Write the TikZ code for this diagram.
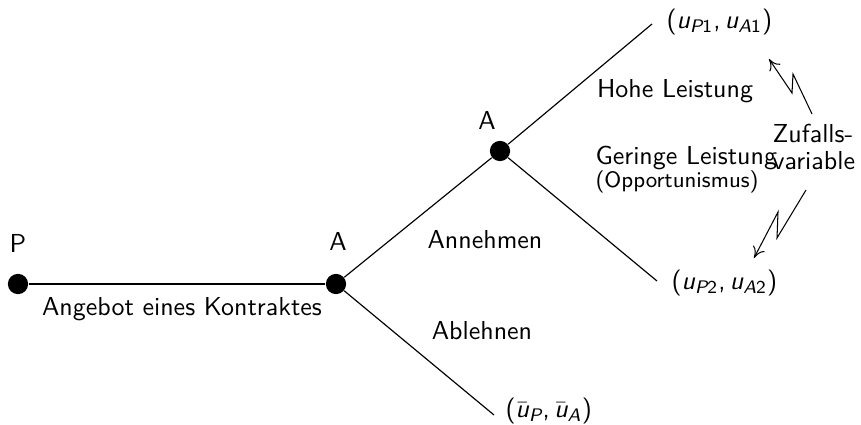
\documentclass[tikz,border=0pt]{standalone}
\usepackage{amsmath}
\renewcommand{\familydefault}{\sfdefault}
\usetikzlibrary{arrows.meta}
% sans-serif slanted variables and upright sans digits inside math
\newcommand{\svar}[1]{\text{\sffamily\slshape #1}}
\newcommand{\stxt}[1]{\text{\sffamily\upshape #1}}
\newcommand{\payoff}[2]{\stxt{(}#1\stxt{,}\,#2\stxt{)}}
\tikzset{
  decision/.style={circle, fill=black, inner sep=0pt, minimum size=7.8pt},
  branch/.style={line width=0.45pt},
  lbl/.style={inner sep=0pt, font=\sffamily},
  smalllbl/.style={inner sep=0pt, font=\sffamily\fontsize{8.6}{10}\selectfont},
  tightlbl/.style={inner sep=0pt, font=\sffamily\fontsize{10}{10.4}\selectfont},
  chance/.style={line width=0.4pt, -{To[length=4.2pt,width=5pt]}}
}
\begin{document}
\begin{tikzpicture}[x=0.385pt, y=-0.385pt]
  \useasboundingbox (0,0) rectangle (861,425);

  % decision nodes
  \node[decision] (p)  at (18,284)  {};
  \node[decision] (a1) at (336,284) {};
  \node[decision] (a2) at (500,151) {};

  % ends of the branches
  \coordinate (e1) at (652,24);
  \coordinate (e2) at (657,281);
  \coordinate (e3) at (494,415);

  % branches of the tree
  \draw[branch] (p) -- (a1);
  \draw[branch] (a1) -- (a2);
  \draw[branch] (a1) -- (e3);
  \draw[branch] (a2) -- (e1);
  \draw[branch] (a2) -- (e2);

  % players
  \node[lbl] (lp)  at (18,243)  {P};
  \node[lbl] (la1) at (338,241) {A};
  \node[lbl] (la2) at (487,120) {A};

  % actions
  \node[lbl] (offer)  at (182,309) {Angebot eines Kontraktes};
  \node[lbl] (accept) at (485,240) {Annehmen};
  \node[lbl] (reject) at (482,331) {Ablehnen};
  \node[lbl] (high)   at (675,91)  {Hohe Leistung};
  \node[lbl, anchor=west] (low) at (595,158) {Geringe Leistung};
  \node[smalllbl, anchor=west] (opp) at (595,182) {(Opportunismus)};

  % payoffs
  \node[lbl, anchor=west] (u1) at (666,22)
    {$\payoff{\svar{u}_{\svar{P}\stxt{1}}}{\svar{u}_{\svar{A}\stxt{1}}}$};
  \node[lbl, anchor=west] (u2) at (671,283)
    {$\payoff{\svar{u}_{\svar{P}\stxt{2}}}{\svar{u}_{\svar{A}\stxt{2}}}$};
  \node[lbl, anchor=west] (u3) at (505,411)
    {$\payoff{\bar{\svar{u}}_{\svar{P}}}{\bar{\svar{u}}_{\svar{A}}}$};

  % nature's move
  \node[tightlbl, align=left, anchor=west] (rv) at (772,147) {Zufalls-\\variable};

  \coordinate (z1a) at (812,114);
  \coordinate (z1b) at (793,74);
  \coordinate (z1c) at (792,93);
  \coordinate (z1d) at (769,59);
  \draw[chance] (z1a) -- (z1b) -- (z1c) -- (z1d);

  \coordinate (z2a) at (806,190);
  \coordinate (z2b) at (777,238);
  \coordinate (z2c) at (778,212);
  \coordinate (z2d) at (754,258);
  \draw[chance] (z2a) -- (z2b) -- (z2c) -- (z2d);
\end{tikzpicture}
\end{document}
